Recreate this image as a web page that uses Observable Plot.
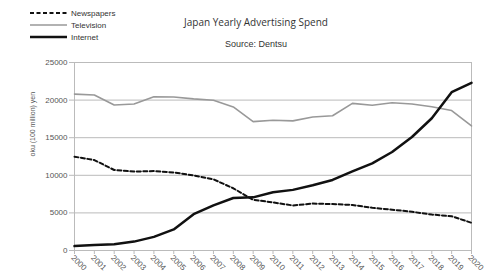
<!DOCTYPE html>
<html>
<head>
<meta charset="utf-8">
<script src="https://cdn.jsdelivr.net/npm/d3@7"></script>
<script src="https://cdn.jsdelivr.net/npm/@observablehq/plot@0.6"></script>
<style>
  html, body { margin: 0; padding: 0; background: #fff; }
  #wrap { position: relative; width: 488px; height: 271px; overflow: hidden; font-family: "Liberation Sans", Arial, sans-serif; }
  #chart { position: absolute; left: 0; top: 0; }
  .title { position: absolute; left: 0; width: 512px; text-align: center; color: #333; white-space: nowrap; }
  #legend { position: absolute; left: 30px; top: 7px; font-size: 8px; color: #333; }
  #legend .row { display: flex; align-items: center; height: 12px; }
  #legend svg { margin-right: 3px; }
</style>
</head>
<body>
<div id="wrap">
  <div id="chart"></div>
  <div class="title" style="top:15px;font-size:10px;font-family:'Open Sans',sans-serif;">Japan Yearly Advertising Spend</div>
  <div class="title" style="top:39px;font-size:9px;">Source: Dentsu</div>
  <div id="legend"></div>
</div>
<script>
const years = [2000,2001,2002,2003,2004,2005,2006,2007,2008,2009,2010,2011,2012,2013,2014,2015,2016,2017,2018,2019,2020];
const newspapers = [12474,12027,10707,10500,10559,10377,9986,9462,8276,6739,6396,5990,6242,6170,6057,5679,5431,5147,4784,4547,3688];
const television = [20793,20681,19351,19480,20436,20411,20161,19981,19092,17139,17321,17237,17757,17913,19564,19323,19657,19478,19123,18612,16559];
const internet = [590,735,845,1183,1814,2808,4826,6003,6983,7069,7747,8062,8680,9381,10519,11594,13100,15094,17589,21048,22290];
const seriesNames = ["Newspapers","Television","Internet"];
const yTicks = [0,5000,10000,15000,20000,25000];
const yLabel = "oku (100 million) yen";

const styles = {
  Newspapers: {stroke: "#111", strokeWidth: 2, dash: "4,2.5"},
  Television: {stroke: "#999", strokeWidth: 1.6, dash: null},
  Internet: {stroke: "#111", strokeWidth: 2.5, dash: null}
};
const valuesBy = {Newspapers: newspapers, Television: television, Internet: internet};
const rows = seriesNames.flatMap(s => years.map((y, i) => ({series: s, year: y, value: valuesBy[s][i]})));

const lineMarks = seriesNames.map(s => Plot.line(rows.filter(d => d.series === s), {
  x: "year", y: "value", stroke: styles[s].stroke, strokeWidth: styles[s].strokeWidth,
  strokeDasharray: styles[s].dash, strokeLinejoin: "round"
}));

const plot = Plot.plot({
  width: 488,
  height: 271,
  marginLeft: 74,
  marginRight: 17,
  marginTop: 62,
  marginBottom: 21,
  style: {fontFamily: "Liberation Sans, Arial, sans-serif", background: "#fff"},
  x: {domain: [2000, 2020]},
  y: {domain: [0, 25000]},
  marks: [
    Plot.ruleY(yTicks, {stroke: "#bbb", strokeWidth: 1}),
    Plot.frame({stroke: "#bbb"}),
    Plot.axisY({ticks: yTicks, tickSize: 5, tickPadding: 2, stroke: "#bbb", fill: "#555", fontSize: 8, label: null, tickFormat: d => String(d)}),
    Plot.axisX({ticks: years, tickSize: 4, stroke: "#bbb", tickFormat: () => "", label: null}),
    Plot.text(years, {x: d => d, frameAnchor: "bottom", dy: 6, dx: -2, rotate: 45, textAnchor: "start", lineAnchor: "middle", fontSize: 8, fill: "#555", text: d => String(d)}),
    Plot.text([yLabel], {frameAnchor: "left", rotate: -90, dx: -42, fontSize: 7, fill: "#555"}),
    ...lineMarks
  ]
});
document.getElementById("chart").appendChild(plot);

const legend = document.getElementById("legend");
for (const s of seriesNames) {
  const st = styles[s];
  const row = document.createElement("div");
  row.className = "row";
  row.innerHTML = `<svg width="38" height="6"><line x1="0" y1="3" x2="37" y2="3" stroke="${st.stroke}" stroke-width="${st.strokeWidth}" ${st.dash ? `stroke-dasharray="${st.dash}"` : ""}/></svg><span>${s}</span>`;
  legend.appendChild(row);
}
</script>
</body>
</html>
